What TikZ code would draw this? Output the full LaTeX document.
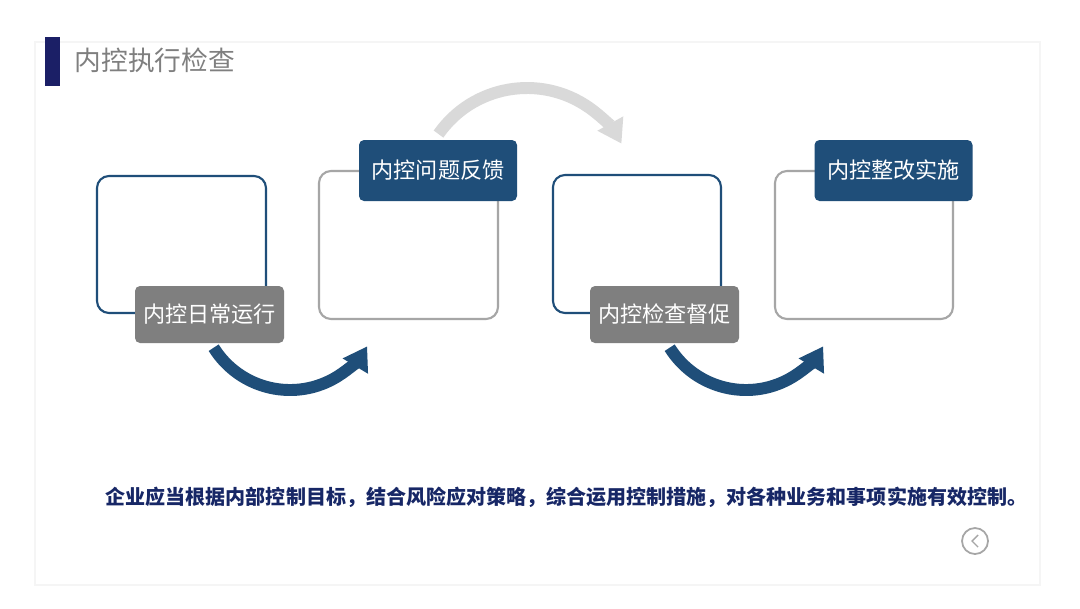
\documentclass[tikz,border=0pt]{standalone}
\usepackage{fontspec}
\newfontfamily\cjk{Noto Sans CJK SC}
\usetikzlibrary{arrows.meta}
\definecolor{navy}{HTML}{1B1F66}
\definecolor{ctlblue}{HTML}{1F4E79}
\definecolor{ctlgray}{HTML}{7F7F7F}
\definecolor{frame}{HTML}{A6A6A6}
\definecolor{pale}{HTML}{D9D9D9}
\definecolor{note}{HTML}{172766}
\tikzset{
  card/.style={draw, rounded corners=0.12cm, line width=0.6pt, fill=white, inner sep=0pt},
  tag/.style={rounded corners=0.05cm, text=white, inner sep=0pt, font=\cjk\fontsize{6.3}{7}\selectfont},
  curl/.style={line width=3.4pt, -{Triangle[length=2.3mm, width=2.8mm]}},
}
\begin{document}
\begin{tikzpicture}
\useasboundingbox[fill=white] (0,0) rectangle (10.8,6.08);
\draw[gray!8, line width=0.4pt] (0.35,0.23) rectangle (10.40,5.66);
\fill[navy] (0.45,5.22) rectangle (0.60,5.71);
\node[anchor=west, text=ctlgray, font=\cjk\fontsize{7.6}{9}\selectfont, inner sep=0pt] (title) at (0.74,5.48) {内控执行检查};
% boxes
\node[card, draw=ctlblue, minimum width=1.69cm, minimum height=1.37cm] (box1) at (1.815,3.635) {};
\node[card, draw=frame, minimum width=1.79cm, minimum height=1.48cm] (box2) at (4.085,3.63) {};
\node[card, draw=ctlblue, minimum width=1.68cm, minimum height=1.38cm] (box3) at (6.37,3.64) {};
\node[card, draw=frame, minimum width=1.78cm, minimum height=1.48cm] (box4) at (8.64,3.63) {};
% arcs
\coordinate (c1) at (2.90,3.08);
\coordinate (c2) at (7.46,3.08);
\coordinate (c3) at (5.27,4.12);
\draw[curl, ctlblue] (c1) ++(212:0.9) arc[start angle=212, end angle=329, radius=0.9];
\draw[curl, ctlblue] (c2) ++(212:0.9) arc[start angle=212, end angle=329, radius=0.9];
\draw[curl, pale] (c3) ++(145:1.08) arc[start angle=145, end angle=29, radius=1.08];
% labels
\node[tag, fill=ctlgray, minimum width=1.49cm, minimum height=0.57cm] (tag1) at (2.095,2.935) {内控日常运行};
\node[tag, fill=ctlblue, minimum width=1.58cm, minimum height=0.61cm] (tag2) at (4.38,4.375) {内控问题反馈};
\node[tag, fill=ctlgray, minimum width=1.49cm, minimum height=0.57cm] (tag3) at (6.645,2.935) {内控检查督促};
\node[tag, fill=ctlblue, minimum width=1.58cm, minimum height=0.61cm] (tag4) at (8.935,4.375) {内控整改实施};
\node[anchor=west, text=note, inner sep=0pt, font=\cjk\bfseries\fontsize{5.7}{7}\selectfont] (remark) at (1.05,1.11) {企业应当根据内部控制目标，结合风险应对策略，综合运用控制措施，对各种业务和事项实施有效控制。};
% back button
\node[draw=gray!70, circle, line width=0.5pt, minimum size=0.26cm, inner sep=0pt] (back) at (9.75,0.67) {};
\draw[gray!70, line width=0.4pt] (9.78,0.73) -- (9.72,0.67) -- (9.78,0.61);
\end{tikzpicture}
\end{document}
